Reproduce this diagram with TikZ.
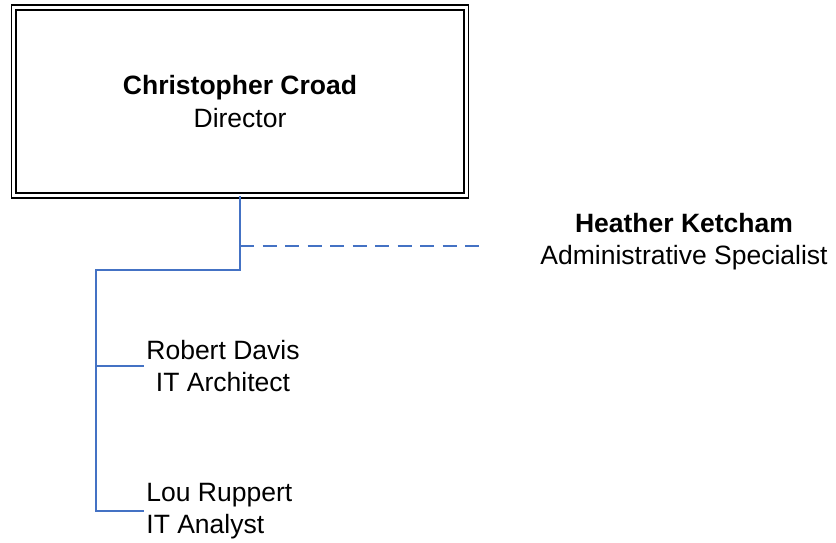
\documentclass[tikz,border=0pt]{standalone}
\usepackage{fontspec}
\setmainfont{Liberation Sans}
\usetikzlibrary{positioning}
\definecolor{orgblue}{HTML}{4472C4}
\tikzstyle{boss}=[draw, double, line width=0.85bp, double distance=1.5bp, minimum width=226bp, minimum height=94bp, align=center]
\tikzstyle{person}=[inner xsep=1bp, inner ysep=0pt, node distance=24bp]
\tikzstyle{link}=[draw=orgblue, line width=0.85bp]
\tikzstyle{every node}=[font=\fontsize{13.3}{16.2}\selectfont]

\begin{document}
\begin{tikzpicture}[x=0.5bp, y=-0.5bp]
    \useasboundingbox (0,0) rectangle (836,543);
    \node[boss] (cc) at (240,101.5) {\textbf{Christopher Croad}\\Director};
    \coordinate (split) at (240,246);
    \coordinate (elbow) at (240,270);
    \coordinate (trunk) at (96,270);
    \coordinate (rb) at (96,366);
    \coordinate (lb) at (96,511);
    \coordinate (dashend) at (481,246);
    \node[align=center] (hk) at (684,242) {\textbf{Heather Ketcham}\\Administrative Specialist};
    \node[person,align=center] (rd) [right = of rb] {Robert Davis\\IT Architect};
    \node[person,align=left] (lr) [right = of lb] {Lou Ruppert\\IT Analyst};
    \draw[link] (cc.south) -- (elbow) -- (trunk) -- (lb) -- (lr.west);
    \draw[link] (rb) -- (rd.west);
    \draw[link, dash pattern=on 7bp off 4.25bp] (split) -- (dashend);
\end{tikzpicture}
\end{document}
